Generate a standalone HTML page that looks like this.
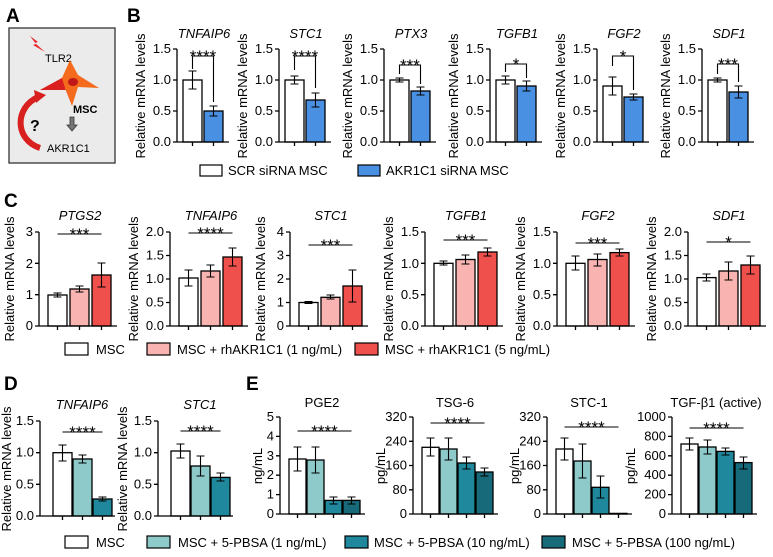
<!DOCTYPE html>
<html><head><meta charset="utf-8"><style>
html,body{margin:0;padding:0;background:#fff}
svg{display:block;font-family:"Liberation Sans",Arial,sans-serif}
.ax{stroke:#000;stroke-width:1.3;fill:none}
.e{stroke:#000;stroke-width:1.1;fill:none}
.b{stroke:#000;stroke-width:1.3}
.tk{font-size:13px;text-anchor:end}
.yl{font-size:13px;text-anchor:middle}
.ti{font-size:13px;text-anchor:middle;font-style:italic}
.tn{font-size:13px;text-anchor:middle}
.st{font-size:17px;text-anchor:middle}
.lg{font-size:13px}
.pl{font-size:19px;font-weight:bold}
</style></head><body>
<svg width="773" height="557" viewBox="0 0 773 557">
<text class="pl" x="6" y="22">A</text>
<text class="pl" x="127" y="22">B</text>
<text class="pl" x="4" y="207">C</text>
<text class="pl" x="4" y="390">D</text>
<text class="pl" x="246" y="390">E</text>

<!-- Panel A -->
<rect x="9" y="28" width="106" height="135" fill="#ebebeb" stroke="#333" stroke-width="1.3"/>
<path d="M30,36 L38,42 L35,43 L45,52 L33,45 L36,44 Z" fill="#e8262a"/>
<text x="45" y="62" font-size="11">TLR2</text>
<path d="M40,90 L62,78 L70,60 L78,75 L99,88 L78,87 L72,106 L65,88 Z" fill="#f46b1e"/>
<path d="M40,90 L62,78 L65,88 L72,106 L66,90 Z" fill="#d9201f"/>
<ellipse cx="73" cy="82" rx="5" ry="4" fill="#c01818"/>
<text x="73" y="113" font-size="11" font-weight="bold">MSC</text>
<path d="M40,148 C15,140 14,108 38,97" stroke="#d8201f" stroke-width="6" fill="none"/>
<path d="M34,90 L46,95 L36,103 Z" fill="#d8201f"/>
<text x="30" y="131" font-size="16" font-weight="bold">?</text>
<path d="M70,117 h4 v8 h3 l-5,6 l-5,-6 h3 z" fill="#777" stroke="#333" stroke-width="0.8"/>
<text x="47" y="152" font-size="11">AKR1C1</text>

<!-- Panel B -->
<g transform="translate(177,142)">
<rect class="b" x="6" y="-62" width="19" height="62" fill="#fff"/><rect class="b" x="27" y="-31" width="19" height="31" fill="#4a90e2"/>
<path class="e" d="M15.5,-71V-53M11.5,-71h8M11.5,-53h8M36.5,-36V-26M32.5,-36h8M32.5,-26h8"/>
<path class="ax" d="M0,-93V0H52M-4,0H0M-4,-31H0M-4,-62H0M-4,-93H0M15.5,0v4M36.5,0v4"/>
<text class="tk" x="-6" y="4">0.0</text><text class="tk" x="-6" y="-27">0.5</text><text class="tk" x="-6" y="-58">1.0</text><text class="tk" x="-6" y="-89">1.5</text>
<text class="yl" transform="translate(-32,-46) rotate(-90)">Relative mRNA levels</text>
<text class="ti" x="27" y="-104">TNFAIP6</text>
<path class="e" d="M15.5,-73V-86H36.5V-40"/><text class="st" x="26" y="-80">****</text>
</g>
<g transform="translate(279,142)">
<rect class="b" x="6" y="-62" width="19" height="62" fill="#fff"/><rect class="b" x="27" y="-42" width="19" height="42" fill="#4a90e2"/>
<path class="e" d="M15.5,-66V-58M11.5,-66h8M11.5,-58h8M36.5,-49V-35M32.5,-49h8M32.5,-35h8"/>
<path class="ax" d="M0,-93V0H52M-4,0H0M-4,-31H0M-4,-62H0M-4,-93H0M15.5,0v4M36.5,0v4"/>
<text class="tk" x="-6" y="4">0.0</text><text class="tk" x="-6" y="-27">0.5</text><text class="tk" x="-6" y="-58">1.0</text><text class="tk" x="-6" y="-89">1.5</text>
<text class="yl" transform="translate(-32,-46) rotate(-90)">Relative mRNA levels</text>
<text class="ti" x="27" y="-104">STC1</text>
<path class="e" d="M15.5,-72V-86H36.5V-54"/><text class="st" x="26" y="-80">****</text>
</g>
<g transform="translate(384,142)">
<rect class="b" x="6" y="-62" width="19" height="62" fill="#fff"/><rect class="b" x="27" y="-51" width="19" height="51" fill="#4a90e2"/>
<path class="e" d="M15.5,-64V-60M11.5,-64h8M11.5,-60h8M36.5,-55V-47M32.5,-55h8M32.5,-47h8"/>
<path class="ax" d="M0,-93V0H52M-4,0H0M-4,-31H0M-4,-62H0M-4,-93H0M15.5,0v4M36.5,0v4"/>
<text class="tk" x="-6" y="4">0.0</text><text class="tk" x="-6" y="-27">0.5</text><text class="tk" x="-6" y="-58">1.0</text><text class="tk" x="-6" y="-89">1.5</text>
<text class="yl" transform="translate(-32,-46) rotate(-90)">Relative mRNA levels</text>
<text class="ti" x="27" y="-104">PTX3</text>
<path class="e" d="M15.5,-68V-77H36.5V-58"/><text class="st" x="26" y="-71">***</text>
</g>
<g transform="translate(490,142)">
<rect class="b" x="6" y="-62" width="19" height="62" fill="#fff"/><rect class="b" x="27" y="-56" width="19" height="56" fill="#4a90e2"/>
<path class="e" d="M15.5,-66V-58M11.5,-66h8M11.5,-58h8M36.5,-61V-51M32.5,-61h8M32.5,-51h8"/>
<path class="ax" d="M0,-93V0H52M-4,0H0M-4,-31H0M-4,-62H0M-4,-93H0M15.5,0v4M36.5,0v4"/>
<text class="tk" x="-6" y="4">0.0</text><text class="tk" x="-6" y="-27">0.5</text><text class="tk" x="-6" y="-58">1.0</text><text class="tk" x="-6" y="-89">1.5</text>
<text class="yl" transform="translate(-32,-46) rotate(-90)">Relative mRNA levels</text>
<text class="ti" x="27" y="-104">TGFB1</text>
<path class="e" d="M15.5,-70V-78H36.5V-64"/><text class="st" x="26" y="-72">*</text>
</g>
<g transform="translate(597,142)">
<rect class="b" x="6" y="-56" width="19" height="56" fill="#fff"/><rect class="b" x="27" y="-45" width="19" height="45" fill="#4a90e2"/>
<path class="e" d="M15.5,-65V-47M11.5,-65h8M11.5,-47h8M36.5,-48V-42M32.5,-48h8M32.5,-42h8"/>
<path class="ax" d="M0,-93V0H52M-4,0H0M-4,-31H0M-4,-62H0M-4,-93H0M15.5,0v4M36.5,0v4"/>
<text class="tk" x="-6" y="4">0.0</text><text class="tk" x="-6" y="-27">0.5</text><text class="tk" x="-6" y="-58">1.0</text><text class="tk" x="-6" y="-89">1.5</text>
<text class="yl" transform="translate(-32,-46) rotate(-90)">Relative mRNA levels</text>
<text class="ti" x="27" y="-104">FGF2</text>
<path class="e" d="M15.5,-76V-86H36.5V-52"/><text class="st" x="26" y="-80">*</text>
</g>
<g transform="translate(702,142)">
<rect class="b" x="6" y="-62" width="19" height="62" fill="#fff"/><rect class="b" x="27" y="-50" width="19" height="50" fill="#4a90e2"/>
<path class="e" d="M15.5,-64V-60M11.5,-64h8M11.5,-60h8M36.5,-56V-44M32.5,-56h8M32.5,-44h8"/>
<path class="ax" d="M0,-93V0H52M-4,0H0M-4,-31H0M-4,-62H0M-4,-93H0M15.5,0v4M36.5,0v4"/>
<text class="tk" x="-6" y="4">0.0</text><text class="tk" x="-6" y="-27">0.5</text><text class="tk" x="-6" y="-58">1.0</text><text class="tk" x="-6" y="-89">1.5</text>
<text class="yl" transform="translate(-32,-46) rotate(-90)">Relative mRNA levels</text>
<text class="ti" x="27" y="-104">SDF1</text>
<path class="e" d="M15.5,-68V-78H36.5V-60"/><text class="st" x="26" y="-72">***</text>
</g>
<rect x="200" y="165" width="22" height="11" fill="#fff" stroke="#000" stroke-width="1.2"/>
<text class="lg" x="228" y="175">SCR siRNA MSC</text>
<rect x="358" y="165" width="22" height="11" fill="#4a90e2" stroke="#000" stroke-width="1.2"/>
<text class="lg" x="386" y="175">AKR1C1 siRNA MSC</text>

<!-- Panel C -->
<g transform="translate(39,326)">
<rect class="b" x="9" y="-31" width="19" height="31" fill="#fff"/><rect class="b" x="31" y="-37" width="19" height="37" fill="#f9b3b1"/><rect class="b" x="53" y="-51" width="19" height="51" fill="#f0504b"/>
<path class="e" d="M18.5,-33V-29M14.5,-33h8M14.5,-29h8M40.5,-40V-34M36.5,-40h8M36.5,-34h8M62.5,-63V-39M58.5,-63h8M58.5,-39h8"/>
<path class="ax" d="M0,-94V0H78M-4,0H0M-4,-31.3H0M-4,-62.7H0M-4,-94H0M18.5,0v4M40.5,0v4M62.5,0v4"/>
<text class="tk" x="-6" y="4">0</text><text class="tk" x="-6" y="-27">1</text><text class="tk" x="-6" y="-58">2</text><text class="tk" x="-6" y="-90">3</text>
<text class="yl" transform="translate(-25,-47) rotate(-90)">Relative mRNA levels</text>
<text class="ti" x="41" y="-106">PTGS2</text>
<path class="e" d="M18.5,-92H62.5"/><text class="st" x="40.5" y="-86">***</text>
</g>
<g transform="translate(170,326)">
<rect class="b" x="9" y="-48" width="19" height="48" fill="#fff"/><rect class="b" x="31" y="-55" width="19" height="55" fill="#f9b3b1"/><rect class="b" x="53" y="-69" width="19" height="69" fill="#f0504b"/>
<path class="e" d="M18.5,-56V-40M14.5,-56h8M14.5,-40h8M40.5,-61V-49M36.5,-61h8M36.5,-49h8M62.5,-78V-60M58.5,-78h8M58.5,-60h8"/>
<path class="ax" d="M0,-94V0H78M-4,0H0M-4,-23.5H0M-4,-47H0M-4,-70.5H0M-4,-94H0M18.5,0v4M40.5,0v4M62.5,0v4"/>
<text class="tk" x="-6" y="4">0.0</text><text class="tk" x="-6" y="-19.5">0.5</text><text class="tk" x="-6" y="-43">1.0</text><text class="tk" x="-6" y="-66.5">1.5</text><text class="tk" x="-6" y="-90">2.0</text>
<text class="yl" transform="translate(-32,-47) rotate(-90)">Relative mRNA levels</text>
<text class="ti" x="41" y="-106">TNFAIP6</text>
<path class="e" d="M18.5,-93H62.5"/><text class="st" x="40.5" y="-87">****</text>
</g>
<g transform="translate(290,326)">
<rect class="b" x="9" y="-23.5" width="19" height="23.5" fill="#fff"/><rect class="b" x="31" y="-28.7" width="19" height="28.7" fill="#f9b3b1"/><rect class="b" x="53" y="-40" width="19" height="40" fill="#f0504b"/>
<path class="e" d="M18.5,-24.5V-22.5M14.5,-24.5h8M14.5,-22.5h8M40.5,-31V-27M36.5,-31h8M36.5,-27h8M62.5,-56V-24M58.5,-56h8M58.5,-24h8"/>
<path class="ax" d="M0,-94V0H78M-4,0H0M-4,-23.5H0M-4,-47H0M-4,-70.5H0M-4,-94H0M18.5,0v4M40.5,0v4M62.5,0v4"/>
<text class="tk" x="-6" y="4">0</text><text class="tk" x="-6" y="-19.5">1</text><text class="tk" x="-6" y="-43">2</text><text class="tk" x="-6" y="-66.5">3</text><text class="tk" x="-6" y="-90">4</text>
<text class="yl" transform="translate(-25,-47) rotate(-90)">Relative mRNA levels</text>
<text class="ti" x="41" y="-106">STC1</text>
<path class="e" d="M18.5,-81H62.5"/><text class="st" x="40.5" y="-75">***</text>
</g>
<g transform="translate(425,326)">
<rect class="b" x="9" y="-62.7" width="19" height="62.7" fill="#fff"/><rect class="b" x="31" y="-66.5" width="19" height="66.5" fill="#f9b3b1"/><rect class="b" x="53" y="-74" width="19" height="74" fill="#f0504b"/>
<path class="e" d="M18.5,-65V-61M14.5,-65h8M14.5,-61h8M40.5,-71V-62M36.5,-71h8M36.5,-62h8M62.5,-78V-70M58.5,-78h8M58.5,-70h8"/>
<path class="ax" d="M0,-94V0H78M-4,0H0M-4,-31.3H0M-4,-62.7H0M-4,-94H0M18.5,0v4M40.5,0v4M62.5,0v4"/>
<text class="tk" x="-6" y="4">0.0</text><text class="tk" x="-6" y="-27">0.5</text><text class="tk" x="-6" y="-58">1.0</text><text class="tk" x="-6" y="-90">1.5</text>
<text class="yl" transform="translate(-32,-47) rotate(-90)">Relative mRNA levels</text>
<text class="ti" x="41" y="-106">TGFB1</text>
<path class="e" d="M18.5,-86H62.5"/><text class="st" x="40.5" y="-80">***</text>
</g>
<g transform="translate(557,326)">
<rect class="b" x="9" y="-62.7" width="19" height="62.7" fill="#fff"/><rect class="b" x="31" y="-66.5" width="19" height="66.5" fill="#f9b3b1"/><rect class="b" x="53" y="-73.4" width="19" height="73.4" fill="#f0504b"/>
<path class="e" d="M18.5,-70V-56M14.5,-70h8M14.5,-56h8M40.5,-72V-60M36.5,-72h8M36.5,-60h8M62.5,-77V-70M58.5,-77h8M58.5,-70h8"/>
<path class="ax" d="M0,-94V0H78M-4,0H0M-4,-31.3H0M-4,-62.7H0M-4,-94H0M18.5,0v4M40.5,0v4M62.5,0v4"/>
<text class="tk" x="-6" y="4">0.0</text><text class="tk" x="-6" y="-27">0.5</text><text class="tk" x="-6" y="-58">1.0</text><text class="tk" x="-6" y="-90">1.5</text>
<text class="yl" transform="translate(-32,-47) rotate(-90)">Relative mRNA levels</text>
<text class="ti" x="41" y="-106">FGF2</text>
<path class="e" d="M18.5,-83H62.5"/><text class="st" x="40.5" y="-77">***</text>
</g>
<g transform="translate(688,326)">
<rect class="b" x="9" y="-48.4" width="19" height="48.4" fill="#fff"/><rect class="b" x="31" y="-55" width="19" height="55" fill="#f9b3b1"/><rect class="b" x="53" y="-61" width="19" height="61" fill="#f0504b"/>
<path class="e" d="M18.5,-52V-45M14.5,-52h8M14.5,-45h8M40.5,-64V-46M36.5,-64h8M36.5,-46h8M62.5,-70V-52M58.5,-70h8M58.5,-52h8"/>
<path class="ax" d="M0,-94V0H78M-4,0H0M-4,-23.5H0M-4,-47H0M-4,-70.5H0M-4,-94H0M18.5,0v4M40.5,0v4M62.5,0v4"/>
<text class="tk" x="-6" y="4">0.0</text><text class="tk" x="-6" y="-19.5">0.5</text><text class="tk" x="-6" y="-43">1.0</text><text class="tk" x="-6" y="-66.5">1.5</text><text class="tk" x="-6" y="-90">2.0</text>
<text class="yl" transform="translate(-32,-47) rotate(-90)">Relative mRNA levels</text>
<text class="ti" x="41" y="-106">SDF1</text>
<path class="e" d="M18.5,-84H62.5"/><text class="st" x="40.5" y="-78">*</text>
</g>
<rect x="65" y="343" width="23" height="12" fill="#fff" stroke="#000" stroke-width="1.2"/>
<text class="lg" x="96" y="354">MSC</text>
<rect x="147" y="343" width="23" height="12" fill="#f9b3b1" stroke="#000" stroke-width="1.2"/>
<text class="lg" x="177" y="354">MSC + rhAKR1C1 (1 ng/mL)</text>
<rect x="355" y="343" width="23" height="12" fill="#f0504b" stroke="#000" stroke-width="1.2"/>
<text class="lg" x="385" y="354">MSC + rhAKR1C1 (5 ng/mL)</text>

<!-- Panel D -->
<g transform="translate(40,516)">
<rect class="b" x="13" y="-63.3" width="19" height="63.3" fill="#fff"/><rect class="b" x="33" y="-57" width="19" height="57" fill="#8ecaca"/><rect class="b" x="53" y="-17" width="19" height="17" fill="#1f889c"/>
<path class="e" d="M22.5,-71V-55M18.5,-71h8M18.5,-55h8M42.5,-61V-53M38.5,-61h8M38.5,-53h8M62.5,-19V-15M58.5,-19h8M58.5,-15h8"/>
<path class="ax" d="M0,-95V0H75M-4,0H0M-4,-31.7H0M-4,-63.3H0M-4,-95H0M22.5,0v4M42.5,0v4M62.5,0v4"/>
<text class="tk" x="-6" y="4">0.0</text><text class="tk" x="-6" y="-27.7">0.5</text><text class="tk" x="-6" y="-59.3">1.0</text><text class="tk" x="-6" y="-91">1.5</text>
<text class="yl" transform="translate(-29,-47) rotate(-90)">Relative mRNA levels</text>
<text class="ti" x="42" y="-107">TNFAIP6</text>
<path class="e" d="M22.5,-84H62.5"/><text class="st" x="42.5" y="-78">****</text>
</g>
<g transform="translate(158,516)">
<rect class="b" x="13" y="-65" width="19" height="65" fill="#fff"/><rect class="b" x="33" y="-50" width="19" height="50" fill="#8ecaca"/><rect class="b" x="53" y="-38.6" width="19" height="38.6" fill="#1f889c"/>
<path class="e" d="M22.5,-72V-58M18.5,-72h8M18.5,-58h8M42.5,-60V-40M38.5,-60h8M38.5,-40h8M62.5,-43V-35M58.5,-43h8M58.5,-35h8"/>
<path class="ax" d="M0,-95V0H75M-4,0H0M-4,-31.7H0M-4,-63.3H0M-4,-95H0M22.5,0v4M42.5,0v4M62.5,0v4"/>
<text class="tk" x="-6" y="4">0.0</text><text class="tk" x="-6" y="-27.7">0.5</text><text class="tk" x="-6" y="-59.3">1.0</text><text class="tk" x="-6" y="-91">1.5</text>
<text class="yl" transform="translate(-31,-47) rotate(-90)">Relative mRNA levels</text>
<text class="ti" x="42" y="-107">STC1</text>
<path class="e" d="M22.5,-85H62.5"/><text class="st" x="42.5" y="-79">****</text>
</g>

<!-- Panel E -->
<g transform="translate(280,514)">
<rect class="b" x="9" y="-55" width="17" height="55" fill="#fff"/><rect class="b" x="27" y="-54" width="17" height="54" fill="#8ecaca"/><rect class="b" x="45" y="-13.6" width="17" height="13.6" fill="#1f889c"/><rect class="b" x="63" y="-13.6" width="17" height="13.6" fill="#176a79"/>
<path class="e" d="M17.5,-67V-43M13.5,-67h8M13.5,-43h8M35.5,-67V-41M31.5,-67h8M31.5,-41h8M53.5,-17V-10M49.5,-17h8M49.5,-10h8M71.5,-17V-10M67.5,-17h8M67.5,-10h8"/>
<path class="ax" d="M0,-97V0H85M-4,0H0M-4,-19.4H0M-4,-38.8H0M-4,-58.2H0M-4,-77.6H0M-4,-97H0M17.5,0v4M35.5,0v4M53.5,0v4M71.5,0v4"/>
<text class="tk" x="-6" y="4">0</text><text class="tk" x="-6" y="-15.4">1</text><text class="tk" x="-6" y="-34.8">2</text><text class="tk" x="-6" y="-54.2">3</text><text class="tk" x="-6" y="-73.6">4</text><text class="tk" x="-6" y="-93">5</text>
<text class="yl" transform="translate(-18,-48) rotate(-90)">ng/mL</text>
<text class="tn" x="42" y="-107">PGE2</text>
<path class="e" d="M17.5,-83H71.5"/><text class="st" x="44.5" y="-77">****</text>
</g>
<g transform="translate(413,514)">
<rect class="b" x="9" y="-66.7" width="17" height="66.7" fill="#fff"/><rect class="b" x="27" y="-65" width="17" height="65" fill="#8ecaca"/><rect class="b" x="45" y="-51" width="17" height="51" fill="#1f889c"/><rect class="b" x="63" y="-42" width="17" height="42" fill="#176a79"/>
<path class="e" d="M17.5,-76V-58M13.5,-76h8M13.5,-58h8M35.5,-76V-54M31.5,-76h8M31.5,-54h8M53.5,-57V-45M49.5,-57h8M49.5,-45h8M71.5,-46V-38M67.5,-46h8M67.5,-38h8"/>
<path class="ax" d="M0,-97V0H85M-4,0H0M-4,-24.2H0M-4,-48.5H0M-4,-72.7H0M-4,-97H0M17.5,0v4M35.5,0v4M53.5,0v4M71.5,0v4"/>
<text class="tk" x="-6" y="4">0</text><text class="tk" x="-6" y="-20.2">80</text><text class="tk" x="-6" y="-44.5">160</text><text class="tk" x="-6" y="-68.7">240</text><text class="tk" x="-6" y="-93">320</text>
<text class="yl" transform="translate(-28,-48) rotate(-90)">pg/mL</text>
<text class="tn" x="42" y="-107">TSG-6</text>
<path class="e" d="M17.5,-91H71.5"/><text class="st" x="44.5" y="-85">****</text>
</g>
<g transform="translate(547,514)">
<rect class="b" x="9" y="-65" width="17" height="65" fill="#fff"/><rect class="b" x="27" y="-53" width="17" height="53" fill="#8ecaca"/><rect class="b" x="45" y="-26.7" width="17" height="26.7" fill="#1f889c"/><rect class="b" x="63" y="-0.6" width="17" height="0.6" fill="#176a79"/>
<path class="e" d="M17.5,-76V-54M13.5,-76h8M13.5,-54h8M35.5,-70V-36M31.5,-70h8M31.5,-36h8M53.5,-38V-16M49.5,-38h8M49.5,-16h8"/>
<path class="ax" d="M0,-97V0H85M-4,0H0M-4,-24.2H0M-4,-48.5H0M-4,-72.7H0M-4,-97H0M17.5,0v4M35.5,0v4M53.5,0v4M71.5,0v4"/>
<text class="tk" x="-6" y="4">0</text><text class="tk" x="-6" y="-20.2">80</text><text class="tk" x="-6" y="-44.5">160</text><text class="tk" x="-6" y="-68.7">240</text><text class="tk" x="-6" y="-93">320</text>
<text class="yl" transform="translate(-28,-48) rotate(-90)">pg/mL</text>
<text class="tn" x="42" y="-107">STC-1</text>
<path class="e" d="M17.5,-87H71.5"/><text class="st" x="44.5" y="-81">****</text>
</g>
<g transform="translate(672,514)">
<rect class="b" x="9" y="-70" width="17" height="70" fill="#fff"/><rect class="b" x="27" y="-67" width="17" height="67" fill="#8ecaca"/><rect class="b" x="45" y="-62.6" width="17" height="62.6" fill="#1f889c"/><rect class="b" x="63" y="-51.4" width="17" height="51.4" fill="#176a79"/>
<path class="e" d="M17.5,-76V-64M13.5,-76h8M13.5,-64h8M35.5,-74V-60M31.5,-74h8M31.5,-60h8M53.5,-66V-59M49.5,-66h8M49.5,-59h8M71.5,-57V-45M67.5,-57h8M67.5,-45h8"/>
<path class="ax" d="M0,-97V0H85M-4,0H0M-4,-19.4H0M-4,-38.8H0M-4,-58.2H0M-4,-77.6H0M-4,-97H0M17.5,0v4M35.5,0v4M53.5,0v4M71.5,0v4"/>
<text class="tk" x="-6" y="4">0</text><text class="tk" x="-6" y="-15.4">200</text><text class="tk" x="-6" y="-34.8">400</text><text class="tk" x="-6" y="-54.2">600</text><text class="tk" x="-6" y="-73.6">800</text><text class="tk" x="-6" y="-93">1000</text>
<text class="yl" transform="translate(-37,-48) rotate(-90)">pg/mL</text>
<text class="tn" x="44" y="-107">TGF-β1 (active)</text>
<path class="e" d="M17.5,-86H71.5"/><text class="st" x="44.5" y="-80">****</text>
</g>
<rect x="65" y="536" width="23" height="12" fill="#fff" stroke="#000" stroke-width="1.2"/>
<text class="lg" x="96" y="547">MSC</text>
<rect x="147" y="536" width="23" height="12" fill="#8ecaca" stroke="#000" stroke-width="1.2"/>
<text class="lg" x="178" y="547">MSC + 5-PBSA (1 ng/mL)</text>
<rect x="345" y="536" width="23" height="12" fill="#1f889c" stroke="#000" stroke-width="1.2"/>
<text class="lg" x="374" y="547">MSC + 5-PBSA (10 ng/mL)</text>
<rect x="542" y="536" width="23" height="12" fill="#176a79" stroke="#000" stroke-width="1.2"/>
<text class="lg" x="572" y="547">MSC + 5-PBSA (100 ng/mL)</text>
</svg>
</body></html>
